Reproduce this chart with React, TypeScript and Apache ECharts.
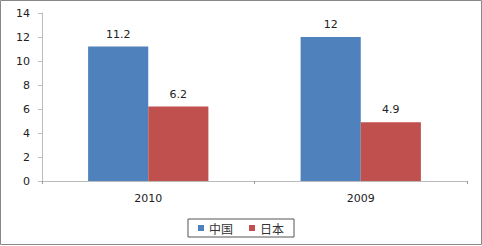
import React, { useEffect, useRef } from "react";
import * as echarts from "echarts";

const categories = ["2010", "2009"];
const chinaValues = [11.2, 12];
const japanValues = [6.2, 4.9];
const seriesNames = ["中国", "日本"];
const yTicks = [0, 14, 2];

export default function App() {
  const ref = useRef<HTMLDivElement>(null);
  useEffect(() => {
    document.body.style.margin = "0";
    const chart = echarts.init(ref.current!, null, { renderer: "svg" });
    const labelStyle = {
      show: true,
      position: "top" as const,
      distance: 7,
      color: "#222",
      fontSize: 11,
      fontFamily: "DejaVu Sans",
    };
    chart.setOption({
      animation: false,
      backgroundColor: "#fff",
      graphic: [
        {
          type: "rect",
          shape: { x: 0.5, y: 0.5, width: 481, height: 244 },
          style: { fill: "none", stroke: "#888", lineWidth: 1 },
          silent: true,
        },
      ],
      grid: { left: 42, right: 15, top: 13, bottom: 65 },
      legend: {
        data: seriesNames,
        top: 219,
        left: "center",
        itemWidth: 6,
        itemHeight: 6,
        itemGap: 16,
        icon: "rect",
        borderColor: "#555",
        borderWidth: 1,
        padding: [3, 10, 3, 10],
        textStyle: { fontSize: 12, color: "#333", fontFamily: "Noto Sans CJK SC" },
      },
      xAxis: {
        type: "category",
        data: categories,
        axisLine: { lineStyle: { color: "#bbb" } },
        axisTick: { show: true, length: 3, lineStyle: { color: "#999" } },
        axisLabel: { color: "#222", fontSize: 11, fontFamily: "DejaVu Sans", margin: 12 },
      },
      yAxis: {
        type: "value",
        min: yTicks[0],
        max: yTicks[1],
        interval: yTicks[2],
        axisLine: { show: true, lineStyle: { color: "#bbb" } },
        axisTick: { show: true, length: 4, lineStyle: { color: "#bbb" } },
        splitLine: { show: false },
        axisLabel: { color: "#222", fontSize: 11, fontFamily: "DejaVu Sans", margin: 12 },
      },
      series: [
        {
          name: seriesNames[0],
          type: "bar",
          data: chinaValues,
          barWidth: "28.3%",
          barGap: "0%",
          itemStyle: { color: "#4F81BD" },
          label: labelStyle,
        },
        {
          name: seriesNames[1],
          type: "bar",
          data: japanValues,
          barWidth: "28.3%",
          itemStyle: { color: "#C0504D" },
          label: labelStyle,
        },
      ],
    });
    return () => chart.dispose();
  }, []);
  return <div ref={ref} style={{ width: 482, height: 246 }} />;
}
